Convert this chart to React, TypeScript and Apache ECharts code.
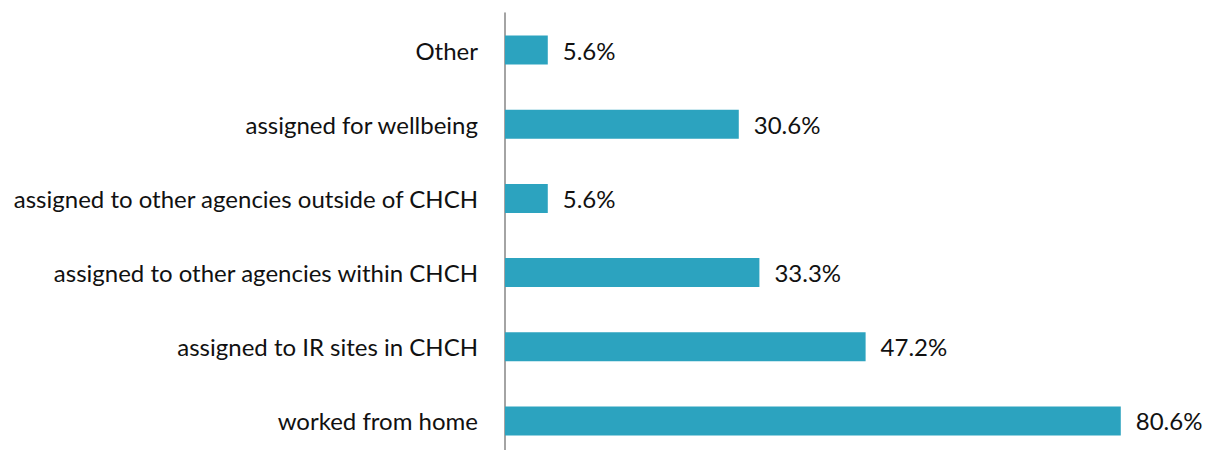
import React, { useEffect, useRef } from "react";
import * as echarts from "echarts";

const categories = [
  "Other",
  "assigned for wellbeing",
  "assigned to other agencies outside of CHCH",
  "assigned to other agencies within CHCH",
  "assigned to IR sites in CHCH",
  "worked from home",
];
const values = [5.6, 30.6, 5.6, 33.3, 47.2, 80.6];

const FONT = "Lato, 'Noto Sans', sans-serif";

export default function App() {
  const ref = useRef<HTMLDivElement>(null);
  useEffect(() => {
    if (!ref.current) return;
    const chart = echarts.init(ref.current, null, { renderer: "svg" });
    chart.setOption({
      animation: false,
      backgroundColor: "#ffffff",
      grid: {
        left: 505,
        width: 687.6,
        top: 13,
        height: 445,
        containLabel: false,
        outerBoundsMode: "none",
      },
      xAxis: {
        type: "value",
        min: 0,
        max: 90,
        show: false,
        splitLine: { show: false },
      },
      yAxis: {
        type: "category",
        inverse: true,
        data: categories,
        axisLine: { show: true, lineStyle: { color: "#868686", width: 1.5 } },
        axisTick: { show: false },
        axisLabel: {
          margin: 27,
          fontSize: 24,
          fontFamily: FONT,
          color: "#111111",
        },
      },
      series: [
        {
          type: "bar",
          data: values,
          barWidth: 29,
          itemStyle: { color: "#2ca3bf" },
          label: {
            show: true,
            position: "right",
            distance: 15,
            formatter: "{c}%",
            fontSize: 24,
            fontFamily: FONT,
            color: "#111111",
          },
        },
      ],
    });
    return () => chart.dispose();
  }, []);
  return (
    <div
      ref={ref}
      style={{ position: "absolute", left: 0, top: 0, width: 1212, height: 450 }}
    />
  );
}
